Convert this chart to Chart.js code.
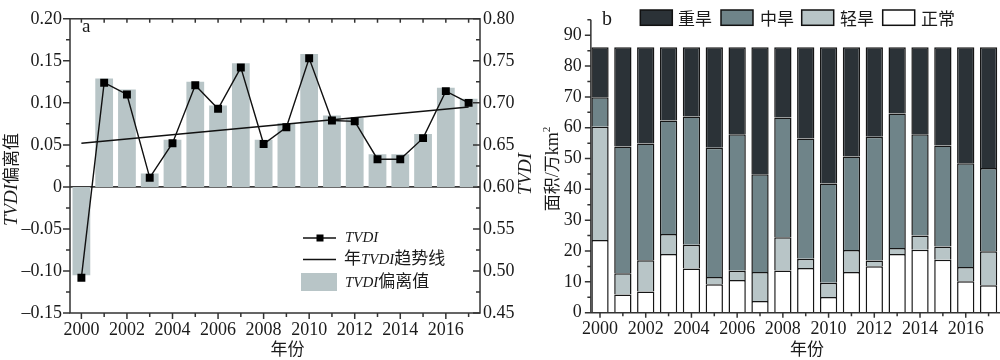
<!DOCTYPE html>
<html><head><meta charset="utf-8">
<script src="https://cdn.jsdelivr.net/npm/chart.js@4.4.1/dist/chart.umd.min.js"></script>
<style>
html,body{margin:0;padding:0;background:#fff;overflow:hidden;width:1000px;height:360px;}
#wa{position:absolute;left:0;top:0;width:540px;height:360px;}
#wb{position:absolute;left:500px;top:0;width:510px;height:360px;}
</style></head><body>
<div id="wa"><canvas id="ca" width="540" height="360"></canvas></div>
<div id="wb"><canvas id="cb" width="510" height="360"></canvas></div>
<script>
// ---------- data ----------
const years = ['2000','2001','2002','2003','2004','2005','2006','2007','2008','2009','2010','2011','2012','2013','2014','2015','2016','2017'];
// panel a
const tvdiDeviation = [-0.105,0.129,0.116,0.016,0.056,0.125,0.097,0.147,0.056,0.076,0.158,0.085,0.082,0.039,0.039,0.063,0.118,0.105];
const tvdiValues = [0.492,0.724,0.710,0.611,0.652,0.721,0.693,0.742,0.651,0.671,0.753,0.679,0.678,0.633,0.633,0.658,0.714,0.700];
const trendStartEnd = [0.652,0.695];
// panel b (万km²)
const areaNormal   = [23.6,5.9,6.9,19.0,14.3,9.2,10.6,3.8,13.7,14.5,5.1,13.2,15.1,19.0,20.4,17.2,10.2,8.9];
const areaLight    = [36.7,6.9,10.1,6.5,7.7,2.4,3.0,9.4,10.8,3.0,4.6,7.1,1.8,2.0,4.6,4.3,4.6,11.0];
const areaModerate = [9.6,41.1,37.9,36.8,41.6,41.9,44.3,31.7,38.8,39.0,32.2,30.4,40.2,43.6,32.9,32.7,33.7,27.0];
const areaSevere   = [16.2,32.2,31.2,23.8,22.5,32.6,28.2,41.2,22.8,29.6,44.2,35.4,29.0,21.5,28.2,31.9,37.6,39.2];
const seriesNames = ['重旱','中旱','轻旱','正常'];
const areaTickValues = [0,10,20,30,40,50,60,70,80,90];

// ---------- style ----------
const SERIF = '"Liberation Serif","Times New Roman",serif';
const CJK = '"Noto Sans CJK SC","Noto Sans CJK JP",sans-serif';
const AX = '#333';
const TXT = '#1a1a1a';
const BAR_A = '#b8c5c7';
const C_SEV = '#2b3237', C_MOD = '#6f8489', C_LIG = '#b8c5c7', C_NOR = '#ffffff';
Chart.defaults.font.family = SERIF;
Chart.defaults.color = TXT;

function drawRich(ctx, parts, x, y, align, rot){
  ctx.save();
  ctx.translate(x, y);
  if (rot) ctx.rotate(rot);
  ctx.textBaseline = 'alphabetic';
  ctx.textAlign = 'left';
  ctx.fillStyle = TXT;
  let w = 0;
  parts.forEach(p => { ctx.font = p[1]; w += ctx.measureText(p[0]).width; });
  let cx = align === 'center' ? -w/2 : 0;
  parts.forEach(p => { ctx.font = p[1]; ctx.fillText(p[0], cx, p[2] || 0); cx += ctx.measureText(p[0]).width; });
  ctx.restore();
}

// ---------- panel a ----------
const pluginA = {
  id: 'decorA',
  beforeDatasetsDraw(chart){
    const {ctx, chartArea:a, scales:{y}} = chart;
    const py = y.getPixelForValue(0);
    ctx.save(); ctx.strokeStyle = '#3a3a3a'; ctx.lineWidth = 1.6;
    ctx.beginPath(); ctx.moveTo(a.left, py); ctx.lineTo(a.right, py); ctx.stroke();
    ctx.restore();
  },
  afterDraw(chart){
    const {ctx, chartArea:a, scales:{x, y, y2}} = chart;
    ctx.save();
    ctx.strokeStyle = AX; ctx.lineWidth = 1.5;
    ctx.strokeRect(a.left, a.top, a.right - a.left, a.bottom - a.top);
    ctx.beginPath();
    for (let k = -6; k <= 8; k++) {
      const py = y.getPixelForValue(k * 0.025); const L = (k % 2 === 0) ? 7 : 4;
      ctx.moveTo(a.left, py); ctx.lineTo(a.left - L, py);
    }
    for (let k = 0; k <= 14; k++) {
      const py = y2.getPixelForValue(0.45 + k * 0.025); const L = (k % 2 === 0) ? 7 : 4;
      ctx.moveTo(a.right, py); ctx.lineTo(a.right - L, py);
    }
    years.forEach((_, i) => {
      const px = x.getPixelForValue(i); const L = (i % 2 === 0) ? 6 : 4;
      ctx.moveTo(px, a.bottom); ctx.lineTo(px, a.bottom + L);
      ctx.moveTo(px, a.top); ctx.lineTo(px, a.top + 4);
    });
    ctx.stroke();
    ctx.restore();

    // panel label
    ctx.save(); ctx.fillStyle = TXT; ctx.font = '19px ' + SERIF; ctx.textBaseline = 'alphabetic';
    ctx.fillText('a', 82, 32); ctx.restore();

    // legend
    ctx.save();
    ctx.strokeStyle = '#111'; ctx.lineWidth = 1.3;
    ctx.beginPath(); ctx.moveTo(303, 238); ctx.lineTo(336, 238); ctx.stroke();
    ctx.fillStyle = '#000'; ctx.fillRect(316.5, 234.5, 7, 7);
    ctx.beginPath(); ctx.moveTo(303, 259.5); ctx.lineTo(336, 259.5); ctx.stroke();
    ctx.fillStyle = BAR_A; ctx.fillRect(301, 273, 36, 18);
    ctx.restore();
    drawRich(ctx, [['TVDI', 'italic 15px ' + SERIF]], 345, 242, 'left');
    drawRich(ctx, [['年', '17px ' + CJK], ['TVDI', 'italic 15px ' + SERIF], ['趋势线', '17px ' + CJK]], 344, 264, 'left');
    drawRich(ctx, [['TVDI', 'italic 15px ' + SERIF], ['偏离值', '17px ' + CJK]], 345, 287, 'left');

    // axis titles
    drawRich(ctx, [['TVDI', 'italic 19px ' + SERIF], ['偏离值', '17px ' + CJK]], 16.5, 179.5, 'center', -Math.PI/2);
    drawRich(ctx, [['TVDI', 'italic 19px ' + SERIF]], 530.5, 174, 'center', -Math.PI/2);
    drawRich(ctx, [['年份', '17px ' + CJK]], 287.5, 355, 'center');
  }
};

const fmtA = v => {
  if (Math.abs(v) < 1e-9) return '0';
  return (v < 0 ? '–' : '') + Math.abs(v).toFixed(2);
};

new Chart(document.getElementById('ca'), {
  data: {
    labels: years,
    datasets: [
      { type: 'bar', label: 'TVDI偏离值', data: tvdiDeviation, backgroundColor: BAR_A, borderWidth: 0,
        barPercentage: 0.78, categoryPercentage: 1, yAxisID: 'y', order: 3 },
      { type: 'line', label: '年TVDI趋势线',
        data: years.map((_, i) => i === 0 ? trendStartEnd[0] : (i === years.length - 1 ? trendStartEnd[1] : null)),
        spanGaps: true, borderColor: '#111', borderWidth: 1.4, pointRadius: 0, yAxisID: 'y2', order: 2 },
      { type: 'line', label: 'TVDI', data: tvdiValues, borderColor: '#111', borderWidth: 1.4,
        pointStyle: 'rect', pointRadius: 5.6, pointBackgroundColor: '#000', pointBorderWidth: 0,
        yAxisID: 'y2', order: 1 }
    ]
  },
  options: {
    responsive: false, animation: false, devicePixelRatio: 1, events: [],
    layout: { padding: { top: 11, left: 0, right: 0, bottom: 0 } },
    plugins: { legend: { display: false }, tooltip: { enabled: false } },
    scales: {
      x: { type: 'category', offset: true, grid: { display: false, drawTicks: false }, border: { display: false },
           ticks: { autoSkip: false, maxRotation: 0, padding: 6, color: TXT, font: { size: 18, family: SERIF },
                    callback: (v, i) => (i % 2 === 0 ? years[i] : '') },
           afterFit: s => { s.height = 47; } },
      y: { position: 'left', min: -0.15, max: 0.20, grid: { display: false, drawTicks: false }, border: { display: false },
           ticks: { stepSize: 0.05, padding: 8, color: TXT, font: { size: 18, family: SERIF }, callback: v => fmtA(v) },
           afterFit: s => { s.width = 70; } },
      y2: { position: 'right', min: 0.45, max: 0.80, grid: { display: false, drawTicks: false }, border: { display: false },
            ticks: { stepSize: 0.05, padding: 3, color: TXT, font: { size: 18, family: SERIF }, callback: v => v.toFixed(2) },
            afterFit: s => { s.width = 60; } }
    }
  },
  plugins: [pluginA]
});

// ---------- panel b ----------
const pluginB = {
  id: 'decorB',
  afterDraw(chart){
    const {ctx, chartArea:a, scales:{x, y}} = chart;
    ctx.save();
    ctx.strokeStyle = AX; ctx.lineWidth = 1.5;
    ctx.beginPath();
    ctx.moveTo(a.left, a.top); ctx.lineTo(a.left, a.bottom); ctx.lineTo(a.right + 10, a.bottom);
    for (let k = 0; k <= 19; k++) {
      const py = y.getPixelForValue(k * 5); const L = (k % 2 === 0) ? 6 : 3.5;
      ctx.moveTo(a.left, py); ctx.lineTo(a.left - L, py);
    }
    years.forEach((yr, i) => {
      const px = x.getPixelForValue(+yr); const L = (i % 2 === 0) ? 5 : 3.5;
      ctx.moveTo(px, a.bottom); ctx.lineTo(px, a.bottom + L);
    });
    ctx.stroke();
    ctx.restore();

    ctx.save(); ctx.fillStyle = TXT; ctx.font = '20px ' + SERIF; ctx.textBaseline = 'alphabetic';
    ctx.fillText('b', 102, 25); ctx.restore();

    // legend
    const cols = [C_SEV, C_MOD, C_LIG, C_NOR];
    const bx = [140.3, 221, 301.7, 382.7];
    const tx = [178, 260, 340, 421];
    ctx.save();
    cols.forEach((c, i) => {
      ctx.fillStyle = c; ctx.fillRect(bx[i], 10, 32, 15.3);
      ctx.strokeStyle = '#111'; ctx.lineWidth = 1.5; ctx.strokeRect(bx[i], 10, 32, 15.3);
    });
    ctx.restore();
    seriesNames.forEach((n, i) => drawRich(ctx, [[n, '17px ' + CJK]], tx[i], 24.6, 'left'));

    drawRich(ctx, [['面积', '17px ' + CJK], ['/', '18px ' + SERIF], ['万', '17px ' + CJK], ['km', '18px ' + SERIF], ['2', '11px ' + SERIF, -8]],
             57.5, 169, 'center', -Math.PI/2);
    drawRich(ctx, [['年份', '17px ' + CJK]], 307, 355, 'center');
  }
};

const mk = arr => years.map((yr, i) => ({ x: +yr, y: arr[i] }));
const barCommon = { borderColor: '#151515', borderWidth: 1.5, barPercentage: 0.757, categoryPercentage: 1 };

new Chart(document.getElementById('cb'), {
  type: 'bar',
  data: {
    datasets: [
      Object.assign({ label: '正常', data: mk(areaNormal), backgroundColor: C_NOR }, barCommon),
      Object.assign({ label: '轻旱', data: mk(areaLight), backgroundColor: C_LIG }, barCommon),
      Object.assign({ label: '中旱', data: mk(areaModerate), backgroundColor: C_MOD }, barCommon),
      Object.assign({ label: '重旱', data: mk(areaSevere), backgroundColor: C_SEV }, barCommon)
    ]
  },
  options: {
    responsive: false, animation: false, devicePixelRatio: 1, events: [],
    layout: { padding: { top: 10, left: 0, right: 7.7, bottom: 0 } },
    plugins: { legend: { display: false }, tooltip: { enabled: false } },
    scales: {
      x: { type: 'linear', min: 1999.6, max: 2017.6, stacked: true, offset: false,
           grid: { display: false, drawTicks: false }, border: { display: false },
           afterBuildTicks: s => { s.ticks = years.map(v => ({ value: +v })); },
           ticks: { autoSkip: false, maxRotation: 0, padding: 6, color: TXT, font: { size: 18, family: SERIF },
                    callback: v => (Math.round(v) % 2 === 0 ? String(Math.round(v)) : '') },
           afterFit: s => { s.height = 47.3; } },
      y: { min: 0, max: 95, stacked: true, grid: { display: false, drawTicks: false }, border: { display: false },
           afterBuildTicks: s => { s.ticks = areaTickValues.map(v => ({ value: v })); },
           ticks: { autoSkip: false, padding: 9, color: TXT, font: { size: 18, family: SERIF } },
           afterFit: s => { s.width = 90.86; } }
    }
  },
  plugins: [pluginB]
});
</script>
</body></html>
